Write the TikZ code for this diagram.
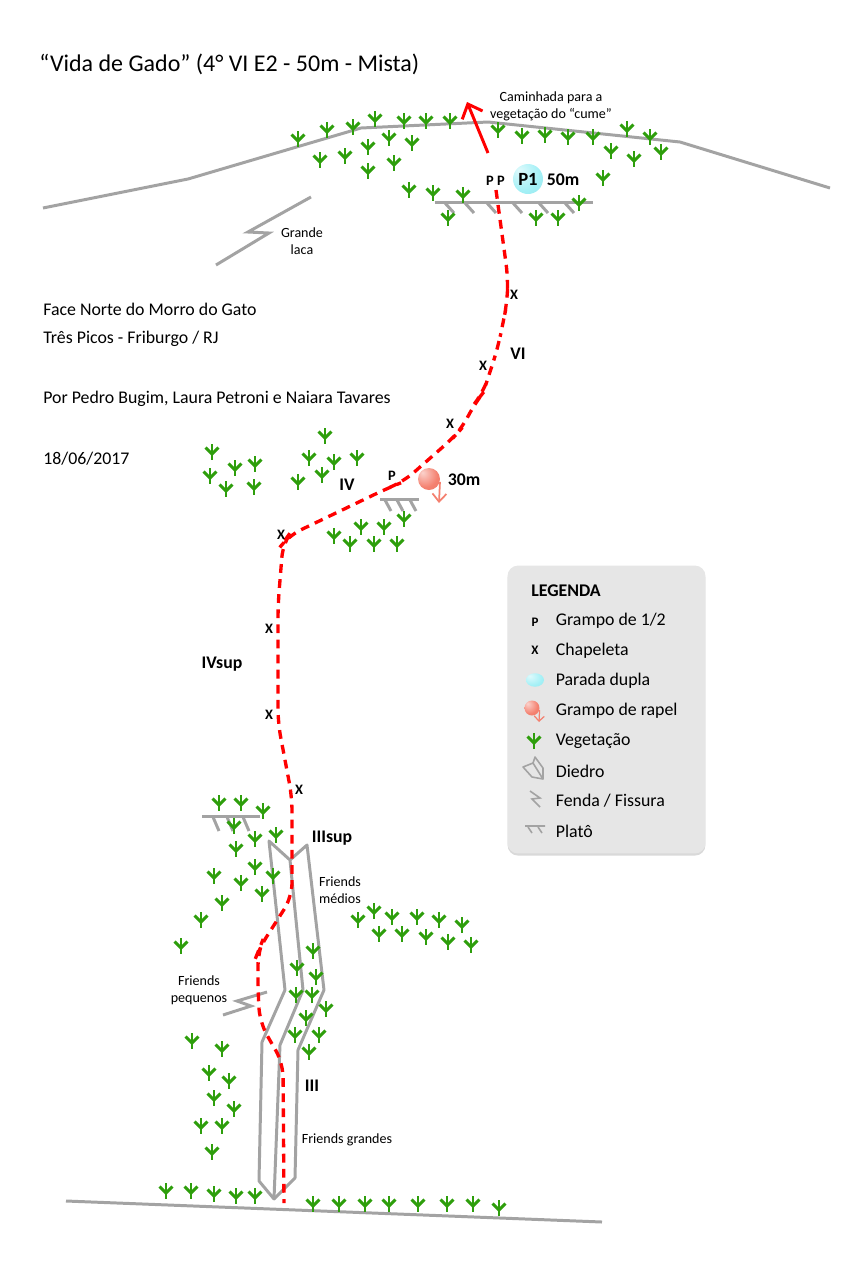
\documentclass[tikz,border=0pt]{standalone}
\usepackage{fontspec}
\setmainfont{Carlito}
\usetikzlibrary{arrows.meta,shadows,shapes.geometric}

\definecolor{rockgray}{HTML}{A3A3A3}
\definecolor{leafgreen}{HTML}{2E9E0C}
\definecolor{legendbg}{HTML}{E6E6E6}
\definecolor{rapelred}{HTML}{F4806F}
\definecolor{stopcyan}{HTML}{A4F0F6}
\pgfdeclareradialshading{stopball}{\pgfpoint{-15bp}{15bp}}{color(0bp)=(stopcyan!35!white); color(28bp)=(stopcyan); color(55bp)=(stopcyan!88!teal); color(72bp)=(stopcyan!70!teal)}
\pgfdeclareradialshading{rapelball}{\pgfpoint{-15bp}{15bp}}{color(0bp)=(rapelred!35!white); color(28bp)=(rapelred); color(55bp)=(rapelred!95!black); color(72bp)=(rapelred!85!black)}

\begin{document}
\begin{tikzpicture}[
  x=0.02cm, y=-0.02cm,
  rock/.style={draw=rockgray, line width=1.7pt},
  route/.style={draw=red, line width=1.9pt, dash pattern=on 5pt off 3.6pt},
  txt/.style={font=\fontsize{10.15}{12}\selectfont, anchor=west, inner sep=0pt},
  small/.style={font=\fontsize{8}{9.5}\selectfont, align=center, inner sep=0pt},
  grade/.style={font=\fontsize{10.1}{12}\selectfont\bfseries, inner sep=0pt},
  bolt/.style={font=\fontsize{8.2}{9}\selectfont\bfseries, inner sep=0pt},
  stopnode/.style={circle, shading=stopball, minimum size=0.6cm, inner sep=0pt},
  rapelnode/.style={circle, shading=rapelball, minimum size=0.44cm, inner sep=0pt},
  rapeltail/.style={draw=rapelred, line width=1pt, -{Straight Barb[length=1.6mm,width=2.8mm]}},
  veg/.pic={
    \draw[leafgreen, line width=1.7pt] (0,-8) -- (0,8);
    \draw[leafgreen, line width=1.7pt] (-6.5,-4.5) -- (0,2) -- (6.5,-4.5);
  }]
  \useasboundingbox (0,0) rectangle (850,1276);
  % title and notes
  \node[txt, font=\fontsize{13.65}{16}\selectfont] (title) at (39,64) {“Vida de Gado” (4° VI E2 - 50m - Mista)};
  \node[txt] (face) at (43,309) {Face Norte do Morro do Gato};
  \node[txt] (local) at (43,339) {Três Picos - Friburgo / RJ};
  \node[txt] (by) at (43,399) {Por Pedro Bugim, Laura Petroni e Naiara Tavares};
  \node[txt] (date) at (43,459) {18/06/2017};
  % ridge, ground and cracks
  \draw[rock] (43,208) -- (188,179) -- (361,128) -- (488,122) -- (680,142) -- (830,188);
  \draw[rock] (66,1201) -- (602,1222);
  \draw[rock] (311,197) -- (248,232) -- (269,233) -- (216,265);
  \draw[rock] (267,992) -- (237,1001) -- (251,1006) -- (223,1015);
  % ledges
  \draw[rock] (435,202) -- (593,202);
  \foreach \a in {445,465,487,513,539,565}
    \draw[rock] (\a,203) -- ++(9,10);
  \draw[rock] (380,499) -- (419,499);
  \foreach \a in {385,397,410}
    \draw[rock] (\a,500) -- ++(6,11);
  \draw[rock] (202,816) -- (260,816);
  \foreach \a in {213,227,243}
    \draw[rock] (\a,817) -- ++(6,14);
  % dihedral
  \draw[rock, line join=round] (269,841) -- (285,990) -- (262,1042) -- (259,1181) -- (274,1199) -- (280,1045) -- (303,990) -- (290,860) -- cycle;
  \draw[rock, line join=round] (290,860) -- (307,845) -- (324,990) -- (298,1050) -- (295,1178) -- (274,1199);
  % vegetation
  \foreach \x/\y in {298/139,327/130,353/127,375/119,404/121,426/121,450/121,389/138,412/143,368/147,345/156,320/160,394/163,368/171,
                     409/190,433/193,463/195,448/218,536/218,558/218,579/203,498/130,522/136,545/135,568/137,593/137,627/129,650/137,
                     661/152,611/151,634/159,603/178,
                     325/436,309/458,334/462,357/458,322/475,298/482,212/452,210/476,235/468,255/464,226/489,254/487,
                     404/519,361/527,384/527,334/536,350/544,374/544,397/544,
                     219/803,241/803,263/811,234/826,255/839,276/835,236/849,255/867,214/876,241/883,273/876,262/894,222/903,201/920,181/946,
                     358/920,374/911,392/917,417/917,439/920,462/925,379/934,402/934,426/937,448/942,471/945,
                     313/951,297/968,316/977,296/995,312/995,326/1009,306/1018,295/1035,319/1035,309/1052,
                     192/1041,222/1049,209/1073,229/1081,214/1098,234/1109,201/1126,222/1126,212/1152,
                     166/1191,191/1191,214/1194,236/1196,255/1196,313/1204,339/1204,365/1204,389/1204,418/1204,447/1204,473/1204,499/1208}
    \pic at (\x,\y) {veg};
  % route
  \draw[route, rounded corners=8pt] (496,190) -- (508,278) -- (507,303) -- (503,323) -- (498,347) -- (490,372) -- (483,393) -- (475,403) -- (462,428)
    -- (453,438) -- (403,482) -- (388,488) -- (288,536) -- (283,543) -- (278,605) -- (278,723) -- (292,797) -- (292,897) -- (260,947) -- (258,952)
    -- (258,993) -- (260,1023) -- (283,1063) -- (284,1203);
  % top exit
  \draw[red, line width=1.7pt, -{Straight Barb[length=2.4mm,width=4.4mm]}] (488,153) -- (467,102);
  \node[small] (walk) at (551,106) {Caminhada para a\\vegetação do “cume”};
  % anchors
  \node[bolt] (pa) at (490,181) {P};
  \node[bolt] (pb) at (501,181) {P};
  \node[stopnode] (pone) at (528,179) {\fontsize{10.6}{12}\selectfont\bfseries P1};
  \node[grade] (pdist) at (563,179.5) {50m};
  \node[bolt] (pmid) at (392,476) {P};
  \node[rapelnode] (rapel) at (429,479) {};
  \draw[rapeltail] (rapel.-15) -- (439,503);
  \node[grade] (rdist) at (464,479.5) {30m};
  % bolts
  \foreach \x/\y [count=\i] in {514/295,483/366,450/424,281/535,269/629,269/715,299/790}
    \node[bolt] (x\i) at (\x,\y) {X};
  % grades
  \node[grade] (gvi) at (518,353.5) {VI};
  \node[grade] (giv) at (347,484.5) {IV};
  \node[grade] (givs) at (222,664.5) {IVsup};
  \node[grade] (giiis) at (332,838.5) {IIIsup};
  \node[grade] (giii) at (312,1085.5) {III};
  % notes on the wall
  \node[small] (laca) at (302,241) {Grande\\laca};
  \node[small] (fmed) at (340,890) {Friends\\médios};
  \node[small] (fpeq) at (199,990) {Friends\\pequenos};
  \node[small] (fgra) at (347,1140) {Friends grandes};
  % legend
  \node[fill=legendbg, rounded corners=6pt, minimum width=3.96cm, minimum height=5.76cm,
        drop shadow={shadow xshift=0pt, shadow yshift=-1.2pt, opacity=0.3}] (legend) at (606.5,709.5) {};
  \node[txt, font=\fontsize{10.15}{12}\selectfont\bfseries] (legtitle) at (531,591) {LEGENDA};
  \foreach \y/\t in {621/{Grampo de 1/2},651/Chapeleta,681/Parada dupla,711/Grampo de rapel,741/Vegetação,771/Diedro,801/{Fenda / Fissura},831/Platô}
    \node[txt] (leg\y) at (555.5,\y) {\t};
  \node[bolt, font=\fontsize{7.4}{9}\selectfont\bfseries] (legp) at (535,622) {P};
  \node[bolt, font=\fontsize{7.4}{9}\selectfont\bfseries] (legx) at (535,650) {X};
  \node[ellipse, shading=stopball, minimum width=0.36cm, minimum height=0.27cm, inner sep=0pt] (legstop) at (535,680) {};
  \node[rapelnode, minimum size=0.3cm] (legrapel) at (532,708) {};
  \draw[rapeltail, line width=0.7pt, -{Straight Barb[length=1mm,width=2mm]}] (legrapel.-15) -- (539,722);
  \pic at (534,741) {veg};
  \draw[rock, line width=0.9pt, line join=round] (535,757) -- (543,768) -- (543,779) -- (532,777) -- (523,767) -- (533,763) -- cycle (533,763) -- (543,779);
  \draw[rock, line width=0.9pt] (530,791) -- (540,798) -- (532,799) -- (540,807);
  \draw[rock, line width=0.9pt] (525,826) -- (545,826) (528,827) -- (532,833) (538,827) -- (542,833);
\end{tikzpicture}
\end{document}
